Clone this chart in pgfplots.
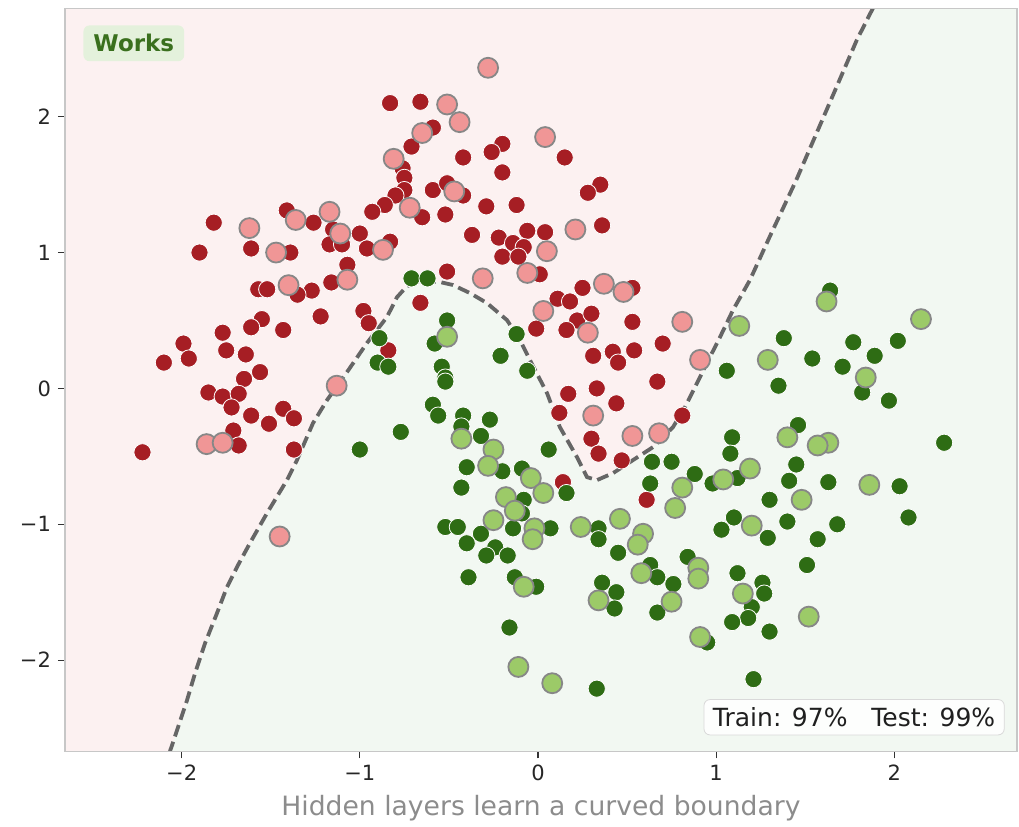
\documentclass[border=0pt]{standalone}
\usepackage{pgfplots}
\usepackage{pgfplotstable}
\pgfplotsset{compat=1.18}
\usepackage{fontspec}
\setmainfont{DejaVu Sans}

\definecolor{bgred}{RGB}{252,241,241}
\definecolor{bggreen}{RGB}{242,248,242}
\definecolor{trainred}{RGB}{166,30,36}
\definecolor{testred}{RGB}{240,150,150}
\definecolor{traingreen}{RGB}{46,108,20}
\definecolor{testgreen}{RGB}{156,202,104}
\definecolor{edgegray}{RGB}{135,135,135}
\definecolor{worksbg}{RGB}{228,241,220}
\definecolor{worksfg}{RGB}{58,112,30}

% class 0 (upper moon), training samples
\pgfplotstableread{
x y
-0.83 2.10
-0.66 2.11
-0.59 1.92
-0.71 1.78
-0.20 1.80
-0.26 1.74
-0.42 1.70
0.15 1.70
-0.76 1.62
-0.20 1.59
-0.75 1.55
-0.75 1.46
-0.80 1.42
-0.86 1.35
-0.93 1.30
-0.59 1.46
-0.51 1.51
-0.42 1.42
-0.65 1.26
-0.52 1.28
-0.29 1.34
-0.12 1.35
0.35 1.50
0.28 1.44
0.36 1.20
-0.06 1.16
0.04 1.15
-0.37 1.13
-0.22 1.11
-0.14 1.07
-0.08 1.04
-0.20 0.97
-0.11 0.97
-0.83 1.08
-0.51 0.86
0.01 0.84
0.25 0.74
0.53 0.74
-1.41 1.31
-1.26 1.22
-1.82 1.22
-1.15 1.17
-1.00 1.14
-1.90 1.00
-1.61 1.03
-1.39 1.00
-1.17 1.06
-1.10 1.06
-0.96 1.03
-1.07 0.91
-1.16 0.78
-1.57 0.73
-1.52 0.73
-1.27 0.72
-1.35 0.69
-0.98 0.57
-0.95 0.48
-0.66 0.63
-1.22 0.53
-1.55 0.51
-1.61 0.45
-1.43 0.43
-1.77 0.41
-1.99 0.33
-1.96 0.22
-2.10 0.19
-1.75 0.28
-1.64 0.25
-1.56 0.12
-1.65 0.07
-1.85 -0.03
-1.77 -0.06
-1.68 -0.04
-1.72 -0.14
-1.61 -0.20
-1.43 -0.15
-1.37 -0.22
-1.51 -0.26
-1.71 -0.31
-1.68 -0.42
-2.22 -0.47
-1.37 -0.45
-0.84 0.28
0.11 0.66
0.18 0.64
0.22 0.50
0.16 0.43
-0.01 0.44
0.30 0.55
0.53 0.49
0.31 0.24
0.42 0.27
0.45 0.19
0.54 0.28
0.70 0.33
0.67 0.05
0.17 -0.04
0.33 0.00
0.44 -0.11
0.12 -0.18
0.30 -0.37
0.34 -0.48
0.47 -0.53
0.81 -0.20
0.14 -0.69
0.61 -0.82
}\redtrain

% class 0, test samples
\pgfplotstableread{
x y
-0.28 2.36
-0.51 2.09
-0.44 1.96
-0.65 1.88
0.04 1.85
-0.81 1.69
-0.47 1.45
-0.72 1.33
0.21 1.17
0.05 1.01
-0.87 1.02
-0.31 0.81
-0.06 0.85
0.37 0.77
0.48 0.71
-1.36 1.24
-1.17 1.30
-1.62 1.18
-1.11 1.14
-1.47 1.00
-1.07 0.80
-1.40 0.76
-1.13 0.02
-1.86 -0.41
-1.77 -0.40
-1.45 -1.09
0.03 0.57
0.28 0.41
0.31 -0.20
0.53 -0.35
0.68 -0.33
0.81 0.49
0.91 0.21
}\redtest

% class 1 (lower moon), training samples
\pgfplotstableread{
x y
-0.71 0.81
-0.62 0.81
-0.89 0.37
-0.90 0.19
-0.84 0.16
-0.58 0.33
-0.51 0.50
-0.12 0.40
-0.21 0.24
-0.06 0.13
-0.54 0.16
-0.52 0.08
-0.59 -0.12
-0.56 -0.20
-0.77 -0.32
-1.00 -0.45
-0.42 -0.20
-0.27 -0.23
-0.43 -0.28
-0.32 -0.35
0.06 -0.45
-0.40 -0.58
-0.20 -0.61
-0.09 -0.59
-0.43 -0.73
-0.08 -0.82
-0.09 -0.92
-0.14 -1.03
0.07 -1.03
-0.52 -1.02
-0.45 -1.02
-0.32 -1.07
-0.40 -1.14
-0.24 -1.17
-0.29 -1.23
-0.17 -1.23
0.34 -1.03
0.34 -1.11
0.45 -1.21
-0.39 -1.39
-0.13 -1.39
-0.01 -1.46
0.36 -1.43
0.44 -1.50
0.43 -1.62
0.63 -1.30
0.67 -1.39
0.76 -1.44
0.67 -1.65
0.84 -1.24
0.64 -0.54
0.75 -0.54
0.88 -0.63
0.63 -0.70
0.16 -0.77
-0.16 -1.76
0.33 -2.21
0.95 -1.87
0.98 -0.70
1.64 0.72
1.38 0.37
1.77 0.34
2.02 0.35
1.89 0.24
1.54 0.22
1.71 0.16
1.06 0.13
1.35 0.02
1.82 -0.03
1.97 -0.09
1.46 -0.27
2.28 -0.40
1.09 -0.36
1.08 -0.48
1.45 -0.56
1.41 -0.68
1.63 -0.69
1.12 -0.66
2.03 -0.72
1.30 -0.82
1.10 -0.95
1.40 -0.98
1.68 -1.00
2.08 -0.95
1.03 -1.04
1.29 -1.10
1.57 -1.11
1.51 -1.30
1.12 -1.36
1.26 -1.43
1.27 -1.51
1.20 -1.61
1.18 -1.69
1.09 -1.72
1.30 -1.79
1.21 -2.14
-0.52 0.05
}\greentrain

% class 1, test samples
\pgfplotstableread{
x y
-0.51 0.38
-0.43 -0.37
-0.25 -0.45
-0.28 -0.57
-0.04 -0.66
0.03 -0.77
-0.18 -0.80
-0.13 -0.90
-0.25 -0.97
-0.02 -1.03
-0.03 -1.11
0.24 -1.02
0.46 -0.96
0.59 -1.07
0.56 -1.15
-0.08 -1.46
0.58 -1.36
0.34 -1.56
0.75 -1.57
0.90 -1.32
0.90 -1.40
0.81 -0.73
0.77 -0.88
-0.11 -2.05
0.08 -2.17
0.91 -1.83
1.62 0.64
2.15 0.51
1.13 0.46
1.29 0.21
1.84 0.08
1.40 -0.36
1.63 -0.40
1.57 -0.42
1.19 -0.59
1.04 -0.67
1.86 -0.71
1.48 -0.82
1.20 -1.01
1.15 -1.51
1.52 -1.68
}\greentest

% decision boundary of the trained network (0.5 contour)
\pgfplotstableread{
x y
1.88 2.798
1.79 2.565
1.62 2.049
1.45 1.534
1.30 1.114
1.19 0.798
1.095 0.577
1.022 0.378
0.937 0.157
0.893 0.039
0.825 -0.138
0.758 -0.285
0.646 -0.432
0.533 -0.528
0.421 -0.624
0.331 -0.675
0.275 -0.653
0.219 -0.506
0.123 -0.285
0.051 -0.035
-0.045 0.208
-0.101 0.356
-0.174 0.503
-0.286 0.628
-0.382 0.702
-0.477 0.761
-0.550 0.783
-0.662 0.790
-0.735 0.753
-0.791 0.672
-0.848 0.525
-0.960 0.334
-1.072 0.120
-1.184 -0.086
-1.263 -0.256
-1.353 -0.528
-1.409 -0.675
-1.521 -0.918
-1.617 -1.139
-1.690 -1.316
-1.746 -1.463
-1.802 -1.655
-1.869 -1.876
-1.925 -2.097
-1.970 -2.295
-2.054 -2.627
-2.066 -2.671
}\boundary

\begin{document}
\begin{tikzpicture}
\begin{axis}[
  name=ax,
  scale only axis,
  width=476pt, height=371.5pt,
  xmin=-2.655, xmax=2.689, ymin=-2.671, ymax=2.798,
  axis on top,
  axis background/.style={fill=bggreen},
  axis line style={draw=black!22, line width=0.6pt},
  tick align=outside, tick pos=left,
  major tick length=3.5pt,
  every tick/.style={black!80, line width=0.6pt},
  xtick={-2,-1,0,1,2}, xticklabels={−2,−1,0,1,2},
  ytick={-2,-1,0,1,2}, yticklabels={−2,−1,0,1,2},
  ticklabel style={font=\fontsize{10.5}{12}\selectfont, text=black!85},
  xlabel={Hidden layers learn a curved boundary},
  xlabel style={font=\fontsize{13.3}{16}\selectfont, text=black!45},
]
% region predicted as class 0
\addplot[fill=bgred, draw=none] coordinates {
  (1.88,2.798) (1.79,2.565) (1.62,2.049) (1.45,1.534) (1.30,1.114)
  (1.19,0.798) (1.095,0.577) (1.022,0.378) (0.937,0.157) (0.893,0.039)
  (0.825,-0.138) (0.758,-0.285) (0.646,-0.432) (0.533,-0.528) (0.421,-0.624)
  (0.331,-0.675) (0.275,-0.653) (0.219,-0.506) (0.123,-0.285) (0.051,-0.035)
  (-0.045,0.208) (-0.101,0.356) (-0.174,0.503) (-0.286,0.628) (-0.382,0.702)
  (-0.477,0.761) (-0.550,0.783) (-0.662,0.790) (-0.735,0.753) (-0.791,0.672)
  (-0.848,0.525) (-0.960,0.334) (-1.072,0.120) (-1.184,-0.086) (-1.263,-0.256)
  (-1.353,-0.528) (-1.409,-0.675) (-1.521,-0.918) (-1.617,-1.139) (-1.690,-1.316)
  (-1.746,-1.463) (-1.802,-1.655) (-1.869,-1.876) (-1.925,-2.097) (-1.970,-2.295)
  (-2.054,-2.627) (-2.066,-2.671)
  (-2.655,-2.671) (-2.655,2.798) (1.88,2.798)
} -- cycle;
% boundary line
\addplot[draw=black!60, line width=1.9pt, dash pattern=on 6pt off 2.8pt] table {\boundary};
% samples
\addplot[only marks, mark=*, mark size=4.3pt,
  mark options={fill=trainred, draw=white, line width=0.4pt}] table {\redtrain};
\addplot[only marks, mark=*, mark size=4.3pt,
  mark options={fill=traingreen, draw=white, line width=0.4pt}] table {\greentrain};
\addplot[only marks, mark=*, mark size=5.0pt,
  mark options={fill=testred, draw=edgegray, line width=0.9pt}] table {\redtest};
\addplot[only marks, mark=*, mark size=5.0pt,
  mark options={fill=testgreen, draw=edgegray, line width=0.9pt}] table {\greentest};
% annotations
\node[anchor=north west, fill=worksbg, rounded corners=3pt, text=worksfg,
  font=\bfseries\fontsize{11.5}{14}\selectfont, inner xsep=5pt, inner ysep=4.5pt]
  at (rel axis cs:0.019,0.9775) {Works};
\node[anchor=south east, fill=white, fill opacity=0.9, text opacity=1,
  draw=black!15, rounded corners=3pt, text=black!88,
  font=\fontsize{12.5}{15}\selectfont, inner xsep=4.5pt, inner ysep=4pt]
  at (rel axis cs:0.987,0.0215) {Train: 97\%\ \ \ Test: 99\%};
\end{axis}
\pgfresetboundingbox
\path[use as bounding box] ([shift={(-32.5pt,-37.5pt)}]ax.south west)
  rectangle ([shift={(1pt,4.15pt)}]ax.north east);
\end{tikzpicture}
\end{document}
